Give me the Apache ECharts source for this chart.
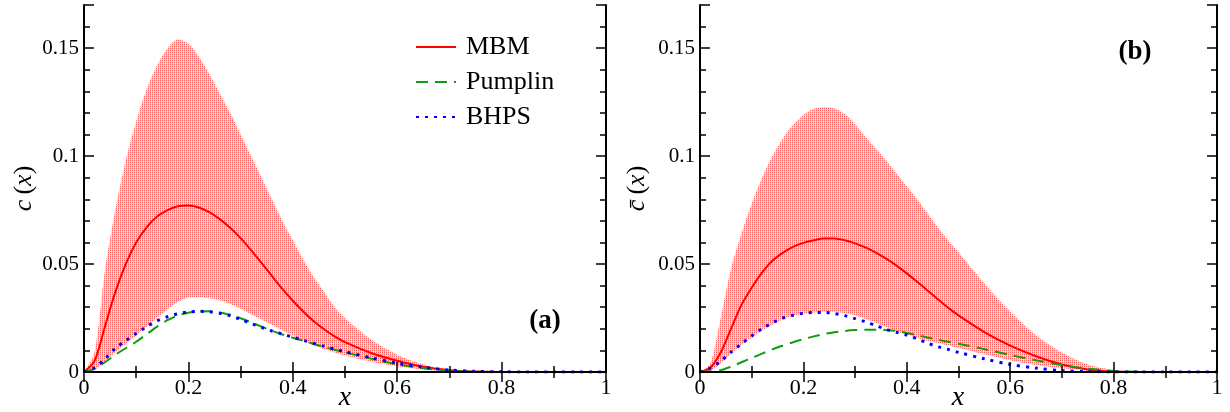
<!DOCTYPE html>
<html>
<head>
<meta charset="utf-8">
<script src="https://cdn.jsdelivr.net/npm/echarts@6/dist/echarts.min.js"></script>
<style>
html,body{margin:0;padding:0;background:#fff;}
#chart{width:1230px;height:412px;}
</style>
</head>
<body>
<div id="chart"></div>
<script>
// ---- data ----
const xs = [0,0.02,0.04,0.06,0.08,0.10,0.12,0.14,0.16,0.18,0.20,0.22,0.24,0.26,0.28,0.30,0.32,0.34,0.36,0.38,0.40,0.42,0.44,0.46,0.48,0.50,0.55,0.60,0.65,0.70,0.75,0.80,0.85,0.90,0.95,1.00];

// panel (a): c(x)
const mbmA   = [0,0.005,0.021,0.037,0.050,0.060,0.067,0.072,0.075,0.0768,0.0771,0.0762,0.0740,0.0708,0.0668,0.0620,0.0565,0.0505,0.0445,0.0385,0.0330,0.0280,0.0235,0.0198,0.0165,0.0138,0.0088,0.0052,0.0024,0.0008,0.0002,0,0,0,0,0];
const upperA = [0,0.009,0.047,0.075,0.098,0.116,0.131,0.142,0.150,0.154,0.152,0.146,0.138,0.129,0.120,0.110,0.100,0.090,0.080,0.070,0.061,0.052,0.044,0.037,0.030,0.025,0.015,0.008,0.0035,0.0012,0.0003,0,0,0,0,0];
const lowerA = [0,0.001,0.005,0.009,0.013,0.017,0.021,0.025,0.029,0.0325,0.0345,0.0347,0.0342,0.0332,0.0315,0.0293,0.0268,0.0243,0.0218,0.0193,0.0168,0.0145,0.0124,0.0106,0.0090,0.0076,0.0048,0.0027,0.0012,0.0004,0.0001,0,0,0,0,0];
const pumA   = [0,0.0015,0.0045,0.008,0.011,0.014,0.0175,0.021,0.024,0.0262,0.0274,0.0280,0.0281,0.0276,0.0265,0.0249,0.0230,0.0210,0.0191,0.0174,0.0159,0.0145,0.0130,0.0116,0.0103,0.0091,0.0062,0.0036,0.0017,0.0006,0.0001,0,0,0,0,0];
const bhpsA  = [0,0.002,0.006,0.011,0.0145,0.0178,0.021,0.0237,0.0256,0.0270,0.0278,0.0281,0.0279,0.0272,0.0260,0.0244,0.0225,0.0207,0.0190,0.0176,0.0161,0.0147,0.0133,0.0119,0.0106,0.0094,0.0066,0.0041,0.0022,0.0009,0.0003,0.0001,0,0,0,0];

// panel (b): c-bar(x)
const mbmB   = [0,0.002,0.009,0.020,0.031,0.039,0.046,0.0515,0.0552,0.058,0.0598,0.061,0.0618,0.0618,0.061,0.0596,0.0577,0.0553,0.0525,0.0493,0.0457,0.0418,0.0378,0.0337,0.0298,0.0262,0.0185,0.0122,0.0073,0.0035,0.0012,0.0002,0,0,0,0];
const upperB = [0,0.004,0.025,0.048,0.064,0.078,0.090,0.100,0.108,0.1145,0.119,0.122,0.1228,0.1222,0.1195,0.1148,0.109,0.1035,0.098,0.092,0.086,0.080,0.0735,0.067,0.061,0.0555,0.041,0.028,0.017,0.009,0.0035,0.001,0,0,0,0];
const lowerB = [0,0.0005,0.004,0.0085,0.0125,0.016,0.0193,0.022,0.0243,0.026,0.027,0.0276,0.0279,0.0278,0.0273,0.0262,0.0247,0.0228,0.0208,0.0189,0.0172,0.0158,0.0145,0.0134,0.0123,0.0112,0.0082,0.0055,0.0033,0.0017,0.0007,0.0002,0,0,0,0];
const pumB   = [0,0.0002,0.0008,0.0025,0.0045,0.0065,0.0085,0.0105,0.0122,0.0138,0.0152,0.0165,0.0176,0.0184,0.019,0.0194,0.0196,0.0196,0.0194,0.019,0.0181,0.0171,0.0160,0.0150,0.0140,0.0131,0.0106,0.0079,0.0054,0.0032,0.0015,0.0005,0.0001,0,0,0];
const bhpsB  = [0,0.0018,0.005,0.0092,0.013,0.0167,0.020,0.0228,0.025,0.0263,0.0272,0.0276,0.0276,0.0271,0.0261,0.0247,0.0233,0.0215,0.0198,0.0184,0.0171,0.0154,0.0134,0.0117,0.0105,0.0091,0.0061,0.0035,0.0018,0.0006,0.0002,0,0,0,0,0];

const xTicks = [0,0.2,0.4,0.6,0.8,1];
const yTicks = [0,0.05,0.1,0.15];
const names = ['MBM','Pumplin','BHPS'];

// ---- chart ----
const FONT = 'Liberation Serif';
const pairs = (ys) => xs.map((x,i)=>[x, ys[i]]);

// stipple pattern for the uncertainty band
const pat = document.createElement('canvas');
pat.width = 2; pat.height = 2;
const pc = pat.getContext('2d');
pc.fillStyle = '#ffdcdc'; pc.fillRect(0,0,2,2);
pc.fillStyle = '#ff6060'; pc.fillRect(0,0,1,1);
pc.fillStyle = '#ffc0c0'; pc.fillRect(0,1,1,1);

const grids = [
  {left:84, right:624, top:5, bottom:40, outerBoundsMode:'none', containLabel:false},
  {left:700, right:13, top:5, bottom:40, outerBoundsMode:'none', containLabel:false}
];

function isMajor(v){ return Math.abs(v/0.05 - Math.round(v/0.05)) < 1e-6; }

const xAxis = [], yAxis = [];
[0,1].forEach(g=>{
  xAxis.push({type:'value', gridIndex:g, position:'bottom', min:0, max:1, interval:0.2, z:10,
    axisLine:{show:true, lineStyle:{color:'#000', width:2}},
    axisTick:{show:true, inside:true, length:10, lineStyle:{color:'#000', width:1.5}},
    minorTick:{show:true, splitNumber:2, length:6, lineStyle:{color:'#000', width:1.5}},
    splitLine:{show:false}, minorSplitLine:{show:false},
    axisLabel:{show:true, margin:5, fontFamily:FONT, fontSize:22, color:'#000',
      formatter:(v)=> String(+v.toFixed(2))}
  });
  xAxis.push({type:'value', gridIndex:g, position:'top', min:0, max:1, interval:0.2, z:10,
    axisLine:{show:true, lineStyle:{color:'#000', width:2}},
    axisTick:{show:true, inside:true, length:10, lineStyle:{color:'#000', width:1.5}},
    minorTick:{show:true, splitNumber:2, length:6, lineStyle:{color:'#000', width:1.5}},
    splitLine:{show:false}, axisLabel:{show:false}
  });
  const yname = g===0 ? '{i|c}{n|\u2009(}{i|x}{n|)}' : '{i|c\u0304}{n|\u2009(}{i|x}{n|)}';
  yAxis.push({type:'value', gridIndex:g, position:'left', min:0, max:0.17, interval:0.01, z:10,
    axisLine:{show:true, lineStyle:{color:'#000', width:2}},
    axisTick:{show:true, inside:true, length:6, lineStyle:{color:'#000', width:1.5}},
    splitLine:{show:false},
    axisLabel:{show:true, margin:5, fontFamily:FONT, fontSize:21, color:'#000',
      showMaxLabel:false,
      formatter:(v)=> (isMajor(v) && v < 0.16) ? String(+v.toFixed(2)) : ''},
    name:yname, nameLocation:'middle', nameRotate:90, nameGap:(g===0?47:50),
    nameTextStyle:{fontFamily:FONT, fontSize:26, color:'#000',
      rich:{i:{fontFamily:FONT, fontStyle:'italic', fontSize:26, color:'#000'},
            n:{fontFamily:FONT, fontSize:26, color:'#000'}}}
  });
  yAxis.push({type:'value', gridIndex:g, position:'left', min:0, max:0.17, interval:0.05, z:10,
    axisLine:{show:false}, axisLabel:{show:false}, splitLine:{show:false},
    axisTick:{show:true, inside:true, length:10, lineStyle:{color:'#000', width:1.5}}
  });
  yAxis.push({type:'value', gridIndex:g, position:'right', min:0, max:0.17, interval:0.01, z:10,
    axisLine:{show:true, lineStyle:{color:'#000', width:2}}, axisLabel:{show:false}, splitLine:{show:false},
    axisTick:{show:true, inside:true, length:6, lineStyle:{color:'#000', width:1.5}}
  });
  yAxis.push({type:'value', gridIndex:g, position:'right', min:0, max:0.17, interval:0.05, z:10,
    axisLine:{show:false}, axisLabel:{show:false}, splitLine:{show:false},
    axisTick:{show:true, inside:true, length:10, lineStyle:{color:'#000', width:1.5}}
  });
});

const panels = [
  {mbm:mbmA, up:upperA, lo:lowerA, pum:pumA, bhps:bhpsA},
  {mbm:mbmB, up:upperB, lo:lowerB, pum:pumB, bhps:bhpsB}
];
const series = [];
panels.forEach((p,g)=>{
  const xi = g*2, yi = g*4;
  series.push({name:'band-up-'+g, type:'line', xAxisIndex:xi, yAxisIndex:yi,
    data:pairs(p.up), symbol:'none', smooth:0.3, lineStyle:{opacity:0},
    areaStyle:{color:{image:pat, repeat:'repeat'}, opacity:1}, z:1, silent:true});
  series.push({name:'band-lo-'+g, type:'line', xAxisIndex:xi, yAxisIndex:yi,
    data:pairs(p.lo), symbol:'none', smooth:0.3, lineStyle:{opacity:0},
    areaStyle:{color:'#ffffff', opacity:1}, z:2, silent:true});
  series.push({name:'MBM', type:'line', xAxisIndex:xi, yAxisIndex:yi, data:pairs(p.mbm),
    symbol:'none', smooth:0.3, lineStyle:{color:'#ff0000', width:2}, itemStyle:{color:'#ff0000'}, z:3});
  series.push({name:'Pumplin', type:'line', xAxisIndex:xi, yAxisIndex:yi, data:pairs(p.pum),
    symbol:'none', smooth:0.3, lineStyle:{color:'#129a12', width:2, type:[12,7]}, itemStyle:{color:'#129a12'}, z:3});
  series.push({name:'BHPS', type:'line', xAxisIndex:xi, yAxisIndex:yi, data:pairs(p.bhps),
    symbol:'none', smooth:0.3, lineStyle:{color:'#0000ff', width:3, type:[3,6]}, itemStyle:{color:'#0000ff'}, z:4});
});

const chart = echarts.init(document.getElementById('chart'), null, {renderer:'canvas'});
chart.setOption({
  animation:false,
  backgroundColor:'#fff',
  grid:grids,
  xAxis:xAxis,
  yAxis:yAxis,
  legend:{data:names, orient:'vertical', left:415, top:34, padding:0, itemWidth:40, itemHeight:14, itemGap:9,
    itemStyle:{opacity:0},
    textStyle:{fontFamily:FONT, fontSize:26, color:'#000', lineHeight:26, padding:[0,0,0,5]}},
  graphic:[
    {type:'text', x:545, y:321, z:20, style:{text:'(a)', font:'bold 27px "Liberation Serif"', fill:'#000', align:'center', verticalAlign:'middle'}},
    {type:'text', x:1135, y:52, z:20, style:{text:'(b)', font:'bold 27px "Liberation Serif"', fill:'#000', align:'center', verticalAlign:'middle'}},
    {type:'text', x:345, y:398, z:20, style:{text:'x', font:'italic 28px "Liberation Serif"', fill:'#000', align:'center', verticalAlign:'middle'}},
    {type:'text', x:958, y:398, z:20, style:{text:'x', font:'italic 28px "Liberation Serif"', fill:'#000', align:'center', verticalAlign:'middle'}}
  ],
  series:series
});
</script>
</body>
</html>
